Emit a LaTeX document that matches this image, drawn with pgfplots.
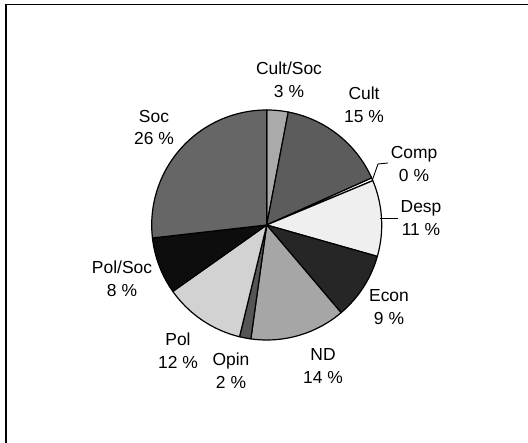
\documentclass[border=0pt]{standalone}
\usepackage{pgfplots}
\pgfplotsset{compat=1.18}
\usepackage{fontspec}
\setmainfont{Liberation Sans}
\definecolor{cCultSoc}{HTML}{AAAAAA}
\definecolor{cCult}{HTML}{5C5C5C}
\definecolor{cComp}{HTML}{FFFFFF}
\definecolor{cDesp}{HTML}{EFEFEF}
\definecolor{cEcon}{HTML}{262626}
\definecolor{cND}{HTML}{A6A6A6}
\definecolor{cOpin}{HTML}{555555}
\definecolor{cPol}{HTML}{D2D2D2}
\definecolor{cPolSoc}{HTML}{0D0D0D}
\definecolor{cSoc}{HTML}{666666}
\begin{document}
\begin{tikzpicture}[x=1bp,y=1bp]
\path[use as bounding box] (0,0) rectangle (528,443);
\draw[line width=1.3bp] (6,0) -- (6,438.5) -- (528,438.5);
\begin{axis}[
  at={(0,0)}, anchor=south west,
  scale only axis, width=528bp, height=443bp,
  xmin=-266.7, xmax=261.3, ymin=-218, ymax=225,
  hide axis, clip=false,
  every axis plot/.append style={line width=1.2bp, draw=black, line join=round},
]
% slices: domain is cumulative percentage (start:end), clockwise from 12 o'clock
\pgfplotsset{pie/.style={samples=80, variable=\t}}
\addplot[pie, fill=cCultSoc, domain=0:3.0]   ({115*cos(90-3.6*t)},{115*sin(90-3.6*t)}) -- (axis cs:0,0) -- cycle;
\addplot[pie, fill=cCult,    domain=3.0:18.3] ({115*cos(90-3.6*t)},{115*sin(90-3.6*t)}) -- (axis cs:0,0) -- cycle;
\addplot[pie, fill=cComp,    domain=18.3:18.7] ({115*cos(90-3.6*t)},{115*sin(90-3.6*t)}) -- (axis cs:0,0) -- cycle;
\addplot[pie, fill=cDesp,    domain=18.7:29.4] ({115*cos(90-3.6*t)},{115*sin(90-3.6*t)}) -- (axis cs:0,0) -- cycle;
\addplot[pie, fill=cEcon,    domain=29.4:38.8] ({115*cos(90-3.6*t)},{115*sin(90-3.6*t)}) -- (axis cs:0,0) -- cycle;
\addplot[pie, fill=cND,      domain=38.8:52.2] ({115*cos(90-3.6*t)},{115*sin(90-3.6*t)}) -- (axis cs:0,0) -- cycle;
\addplot[pie, fill=cOpin,    domain=52.2:53.8] ({115*cos(90-3.6*t)},{115*sin(90-3.6*t)}) -- (axis cs:0,0) -- cycle;
\addplot[pie, fill=cPol,     domain=53.8:65.2] ({115*cos(90-3.6*t)},{115*sin(90-3.6*t)}) -- (axis cs:0,0) -- cycle;
\addplot[pie, fill=cPolSoc,  domain=65.2:73.2] ({115*cos(90-3.6*t)},{115*sin(90-3.6*t)}) -- (axis cs:0,0) -- cycle;
\addplot[pie, fill=cSoc,     domain=73.2:100]  ({115*cos(90-3.6*t)},{115*sin(90-3.6*t)}) -- (axis cs:0,0) -- cycle;
% leader lines
\addplot[line width=0.9bp, mark=none] coordinates {(106,46) (111.3,61) (121.3,62)};
\addplot[line width=0.9bp, mark=none] coordinates {(113.3,7) (131.3,7)};
% labels
\begin{scope}[every node/.style={font=\fontsize{17.5}{23}\selectfont, align=center, inner sep=0pt}]
\node at (axis cs:22.3,145.5) {Cult/Soc\\3 \%};
\node at (axis cs:97.3,120.5) {Cult\\15 \%};
\node at (axis cs:147.3,61) {Comp\\0 \%};
\node at (axis cs:154.3,7) {Desp\\11 \%};
\node at (axis cs:122.3,-82) {Econ\\9 \%};
\node at (axis cs:56.3,-141.5) {ND\\14 \%};
\node at (axis cs:-35.7,-145.5) {Opin\\2 \%};
\node at (axis cs:-88.7,-125.5) {Pol\\12 \%};
\node at (axis cs:-144.7,-53.5) {Pol/Soc\\8 \%};
\node at (axis cs:-112.7,97.5) {Soc\\26 \%};
\end{scope}
\end{axis}
\end{tikzpicture}
\end{document}
